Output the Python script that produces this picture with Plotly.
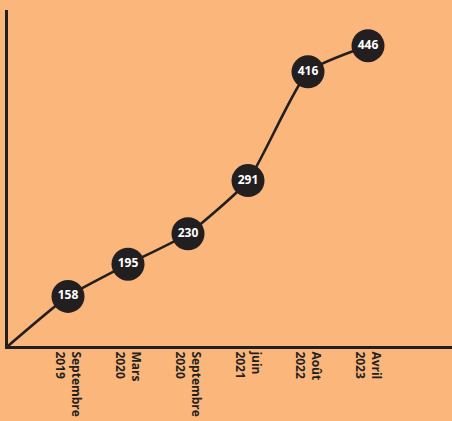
import plotly.graph_objects as go

tick_labels = ["Septembre<br>2019", "Mars<br>2020", "Septembre<br>2020", "juin<br>2021", "Août<br>2022", "Avril<br>2023"]
values = [158, 195, 230, 291, 416, 446]

BG = "#FAB67B"
INK = "#231F20"
Y_MIN, Y_MAX = 101, 487
X_MIN, X_MAX = -1, 6.4

xs = list(range(len(values)))

fig = go.Figure()
# line from the axes origin through all points
fig.add_trace(go.Scatter(
    x=[X_MIN] + xs, y=[Y_MIN] + values,
    mode="lines", line=dict(color=INK, width=2.6, shape="spline", smoothing=0.5),
    hoverinfo="skip", showlegend=False, cliponaxis=False,
))
fig.add_trace(go.Scatter(
    x=xs, y=values, mode="markers+text",
    marker=dict(size=33, color=INK, line=dict(width=0)),
    text=[str(v) for v in values], textposition="middle center",
    textfont=dict(color="white", size=12, family="Open Sans", weight="bold"),
    showlegend=False, cliponaxis=False,
))

fig.update_layout(
    width=452, height=421,
    margin=dict(l=8, r=0, t=10, b=75),
    paper_bgcolor=BG, plot_bgcolor=BG,
    xaxis=dict(
        range=[X_MIN, X_MAX], tickmode="array", tickvals=xs, ticktext=tick_labels,
        tickangle=90, showgrid=False, zeroline=False,
        showline=True, linecolor=INK, linewidth=3, ticks="",
        tickfont=dict(family="Open Sans", size=12, color=INK, weight="bold"),
    ),
    yaxis=dict(
        range=[Y_MIN, Y_MAX], showgrid=False, zeroline=False,
        showline=True, linecolor=INK, linewidth=3, showticklabels=False, ticks="",
    ),
)

fig.write_html(
    "out.html",
    config={"displayModeBar": False},
    post_script="document.body.style.margin='0';document.body.style.background='%s';" % BG,
)
